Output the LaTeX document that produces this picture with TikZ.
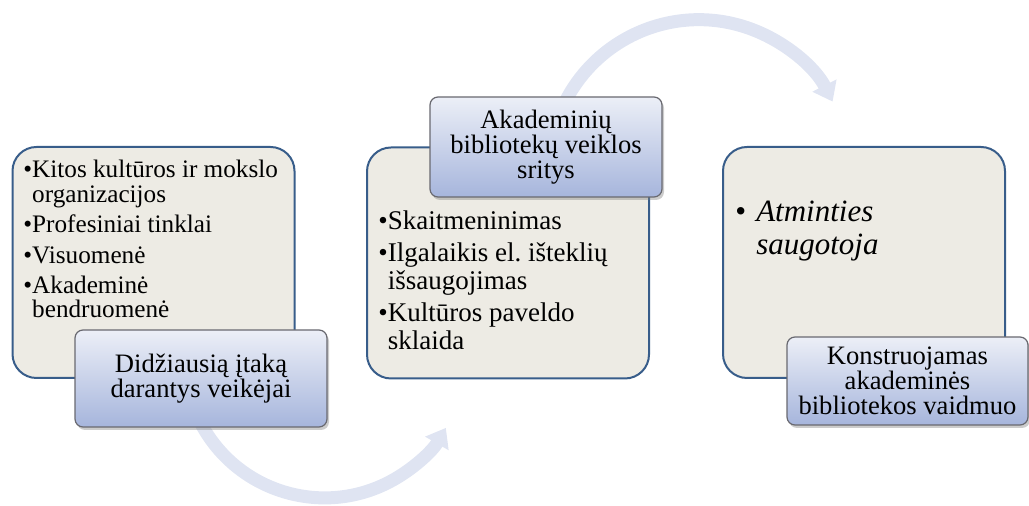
\documentclass[tikz,border=0pt]{standalone}
\usepackage{fontspec}
\setmainfont{Liberation Serif}
\usetikzlibrary{arrows.meta,shadows,backgrounds}

\definecolor{boxfill}{RGB}{237,235,228}
\definecolor{boxline}{RGB}{56,93,138}
\definecolor{lbltop}{RGB}{236,239,247}
\definecolor{lblbot}{RGB}{166,181,220}
\definecolor{lblline}{RGB}{105,105,112}
\definecolor{flowcol}{RGB}{223,228,242}

\newcommand{\bulgap}{\phantom{\textbullet}}

\begin{document}
\begin{tikzpicture}[x=0.5pt, y=-0.5pt,
		bigbox/.style={draw=boxline, line width=1pt, fill=boxfill, rounded corners=12pt, minimum width=141pt, minimum height=115.5pt},
		lblbox/.style={draw=lblline, line width=0.6pt, top color=lbltop, bottom color=lblbot, rounded corners=4pt, inner sep=2pt, align=center, font=\fontsize{13.3}{12.5}\selectfont, drop shadow={shadow xshift=1pt, shadow yshift=-1.5pt, opacity=0.4}},
		items/.style={anchor=north west, inner sep=0pt, align=left},
		flow/.style={draw=flowcol, line width=6.5pt, -{Triangle[width=13pt, length=9pt]}}]
		\useasboundingbox (0, 0) rectangle (1029, 506);

		\node[bigbox] (actors) at (153.5, 262.5) {};
		\node[bigbox] (areas) at (508, 263) {};
		\node[bigbox] (role) at (864, 262.5) {};

		\node[items, font=\fontsize{12.6}{12.2}\selectfont] (actorlist) at (23, 160) {\textbullet Kitos kultūros ir mokslo\\\bulgap organizacijos\\[3pt]\textbullet Profesiniai tinklai\\[3pt]\textbullet Visuomenė\\[3pt]\textbullet Akademinė\\\bulgap bendruomenė};
		\node[items, font=\fontsize{13.5}{14}\selectfont] (arealist) at (378, 210) {\textbullet Skaitmeninimas\\[2pt]\textbullet Ilgalaikis el.\ išteklių\\\bulgap išsaugojimas\\[2pt]\textbullet Kultūros paveldo\\\bulgap sklaida};
		\node[items, font=\fontsize{15.5}{16.5}\selectfont] (rolelist) at (735, 201) {\textbullet\hspace{5pt}\textit{Atminties}\\\bulgap\hspace{5pt}\textit{saugotoja}};

		\node[lblbox, minimum width=126pt, minimum height=48.5pt] (actorlbl) at (201, 378.5) {Didžiausią įtaką\\darantys veikėjai};
		\node[lblbox, minimum width=116pt, minimum height=50pt] (arealbl) at (546, 147) {Akademinių\\bibliotekų veiklos\\sritys};
		\node[lblbox, minimum width=120.5pt, minimum height=44pt] (rolelbl) at (907.5, 381) {Konstruojamas\\akademinės\\bibliotekos vaidmuo};

		\begin{scope}[on background layer]
			\draw[flow] ([yshift=2pt]actorlbl.south) arc[start angle=152, end angle=30, radius=140];
			\draw[flow] ([xshift=6pt, yshift=-11pt]arealbl.north) arc[start angle=-160, end angle=-27, radius=150];
		\end{scope}
	\end{tikzpicture}
\end{document}
